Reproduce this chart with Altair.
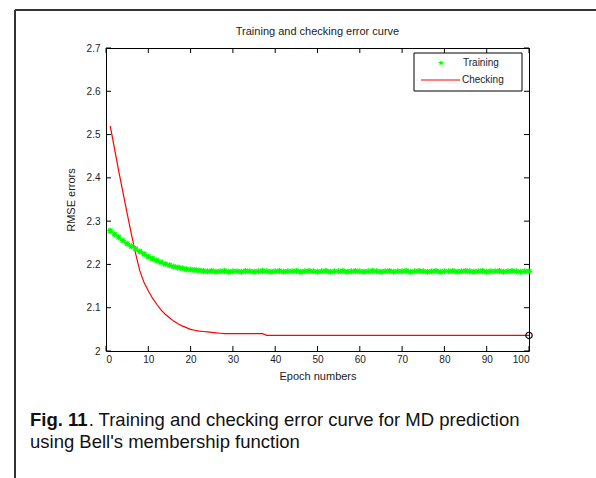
import altair as alt
import pandas as pd

# ---- data ----
epochs = list(range(1, 101))
training = [2.278, 2.270, 2.263, 2.255, 2.248, 2.242, 2.236, 2.230, 2.224, 2.218,
            2.213, 2.209, 2.205, 2.201, 2.198, 2.195, 2.193, 2.191, 2.189, 2.188,
            2.187, 2.186, 2.185, 2.184, 2.185, 2.183, 2.184, 2.185, 2.183, 2.184,
            2.184, 2.183, 2.185, 2.184, 2.183, 2.184, 2.185, 2.184, 2.183, 2.184,
            2.185, 2.183, 2.184, 2.184, 2.185, 2.183, 2.184, 2.185, 2.184, 2.183,
            2.184, 2.185, 2.183, 2.184, 2.184, 2.185, 2.183, 2.184, 2.185, 2.184,
            2.183, 2.184, 2.185, 2.184, 2.183, 2.184, 2.185, 2.183, 2.184, 2.184,
            2.185, 2.183, 2.184, 2.185, 2.184, 2.183, 2.184, 2.185, 2.183, 2.184,
            2.184, 2.185, 2.183, 2.184, 2.185, 2.184, 2.183, 2.184, 2.185, 2.183,
            2.184, 2.184, 2.185, 2.183, 2.184, 2.185, 2.184, 2.183, 2.184, 2.184]
checking = [2.520, 2.468, 2.416, 2.367, 2.318, 2.270, 2.225, 2.185, 2.158, 2.139,
            2.122, 2.108, 2.095, 2.085, 2.077, 2.069, 2.063, 2.058, 2.054, 2.050,
            2.048, 2.046, 2.045, 2.044, 2.043, 2.042, 2.041, 2.040, 2.040, 2.040,
            2.040, 2.040, 2.040, 2.040, 2.040, 2.040, 2.040] + [2.036] * 63
x_ticks = [0, 10, 20, 30, 40, 50, 60, 70, 80, 90, 100]
y_ticks = [2.0, 2.1, 2.2, 2.3, 2.4, 2.5, 2.6, 2.7]
min_epoch = [100]
min_value = [2.036]

title_text = "Training and checking error curve"
x_title = "Epoch numbers"
y_title = "RMSE errors"
legend_labels = ["Training", "Checking"]
caption_bold = "Fig. 11"
caption_line1 = ". Training and checking error curve for MD prediction"
caption_line2 = "using Bell's membership function"

W, H = 423, 303
FONT = "Liberation Sans"
GREEN = "#00ff00"
RED = "#ff0000"
ASTERISK = "M-1,0L1,0M0,-1L0,1M-0.75,-0.75L0.75,0.75M-0.75,0.75L0.75,-0.75"
STAR = ("M0,-1L0.22,-0.31L0.95,-0.31L0.36,0.12L0.59,0.81L0,0.38L-0.59,0.81"
        "L-0.36,0.12L-0.95,-0.31L-0.22,-0.31Z")
CAP_FS = 18.5

df = pd.DataFrame({"epoch": epochs, "training": training, "checking": checking})
xt = pd.DataFrame({"t": x_ticks})
yt = pd.DataFrame({"t": y_ticks})
one = pd.DataFrame({"a": [0]})

xscale = alt.Scale(domain=[0, 100], nice=False, zero=False)
yscale = alt.Scale(domain=[2.0, 2.7], nice=False, zero=False)

x_axis = alt.Axis(values=x_ticks, ticks=False, domain=False, grid=False,
                  labelFont=FONT, labelFontSize=10, labelColor="#222",
                  labelPadding=3, title=x_title, titleFont=FONT,
                  titleFontSize=11, titleFontWeight="normal", titleColor="#222",
                  titlePadding=6)
y_axis = alt.Axis(values=y_ticks, ticks=False, domain=False, grid=False,
                  labelFont=FONT, labelFontSize=10, labelColor="#222",
                  labelPadding=6, title=y_title, titleFont=FONT,
                  titleFontSize=11, titleFontWeight="normal", titleColor="#222",
                  titlePadding=10, format=".1~f")

base = alt.Chart(df)
train_line = base.mark_line(color=GREEN, strokeWidth=1).encode(
    x=alt.X("epoch:Q", scale=xscale, axis=x_axis),
    y=alt.Y("training:Q", scale=yscale, axis=y_axis),
)
train_pts = base.mark_point(shape=ASTERISK, color=GREEN, size=36,
                            strokeWidth=1.3, filled=False, opacity=1).encode(
    x=alt.X("epoch:Q", scale=xscale),
    y=alt.Y("training:Q", scale=yscale),
)
check_line = base.mark_line(color=RED, strokeWidth=1.2).encode(
    x=alt.X("epoch:Q", scale=xscale),
    y=alt.Y("checking:Q", scale=yscale),
)
min_pt = alt.Chart(pd.DataFrame({"epoch": min_epoch, "v": min_value})).mark_point(
    shape="circle", color="black", size=40, strokeWidth=1.2, filled=False, opacity=1
).encode(x=alt.X("epoch:Q", scale=xscale), y=alt.Y("v:Q", scale=yscale))

tick_style = dict(color="black", strokeWidth=1)
tb = alt.Chart(xt).mark_rule(**tick_style).encode(
    x=alt.X("t:Q", scale=xscale), y=alt.value(H), y2=alt.value(H - 5))
tt = alt.Chart(xt).mark_rule(**tick_style).encode(
    x=alt.X("t:Q", scale=xscale), y=alt.value(0), y2=alt.value(5))
tl = alt.Chart(yt).mark_rule(**tick_style).encode(
    y=alt.Y("t:Q", scale=yscale), x=alt.value(0), x2=alt.value(5))
tr = alt.Chart(yt).mark_rule(**tick_style).encode(
    y=alt.Y("t:Q", scale=yscale), x=alt.value(W), x2=alt.value(W - 5))

# legend
leg_box = alt.Chart(one).mark_rect(fill="white", stroke="black", strokeWidth=1).encode(
    x=alt.value(308), x2=alt.value(416), y=alt.value(5), y2=alt.value(43))
leg_star = alt.Chart(one).mark_point(shape=STAR, color=GREEN, size=40,
                                     filled=True, opacity=1).encode(
    x=alt.value(335), y=alt.value(15))
leg_line = alt.Chart(one).mark_rule(color=RED, strokeWidth=1.2).encode(
    x=alt.value(315), x2=alt.value(354), y=alt.value(32))
leg_t1 = alt.Chart(one).mark_text(text=legend_labels[0], font=FONT, fontSize=10,
                                  align="left", baseline="middle", color="#222").encode(
    x=alt.value(357), y=alt.value(15))
leg_t2 = alt.Chart(one).mark_text(text=legend_labels[1], font=FONT, fontSize=10,
                                  align="left", baseline="middle", color="#222").encode(
    x=alt.value(356), y=alt.value(32))

title_mark = alt.Chart(one).mark_text(text=title_text, font=FONT, fontSize=11,
                                      align="center", baseline="middle", color="#222").encode(
    x=alt.value(W / 2), y=alt.value(-16))

cap_b = alt.Chart(one).mark_text(text=caption_bold, font=FONT, fontSize=CAP_FS,
                                 fontWeight="bold", align="left", baseline="middle",
                                 color="#111").encode(x=alt.value(-76), y=alt.value(372))
cap_1 = alt.Chart(one).mark_text(text=caption_line1, font=FONT, fontSize=CAP_FS,
                                 align="left", baseline="middle", color="#111").encode(
    x=alt.value(-76 + 3.17 * CAP_FS), y=alt.value(372))
cap_2 = alt.Chart(one).mark_text(text=caption_line2, font=FONT, fontSize=CAP_FS,
                                 align="left", baseline="middle", color="#111").encode(
    x=alt.value(-76), y=alt.value(394))

frame_l = alt.Chart(one).mark_rule(color="#333", strokeWidth=2).encode(
    x=alt.value(-91), y=alt.value(-38), y2=alt.value(440))
frame_t = alt.Chart(one).mark_rule(color="#333", strokeWidth=2).encode(
    x=alt.value(-91), x2=alt.value(500), y=alt.value(-38))

chart = alt.layer(
    frame_l, frame_t, title_mark,
    check_line, train_line, train_pts, min_pt,
    tb, tt, tl, tr,
    leg_box, leg_star, leg_line, leg_t1, leg_t2,
    cap_b, cap_1, cap_2,
).properties(
    width=W, height=H,
    autosize=alt.AutoSizeParams(type="none"),
    padding={"left": 106, "top": 48, "right": 67, "bottom": 127},
    background="white",
).configure_view(stroke="black", strokeWidth=1)

chart.save("out.html", embed_options={"renderer": "svg", "actions": False})
